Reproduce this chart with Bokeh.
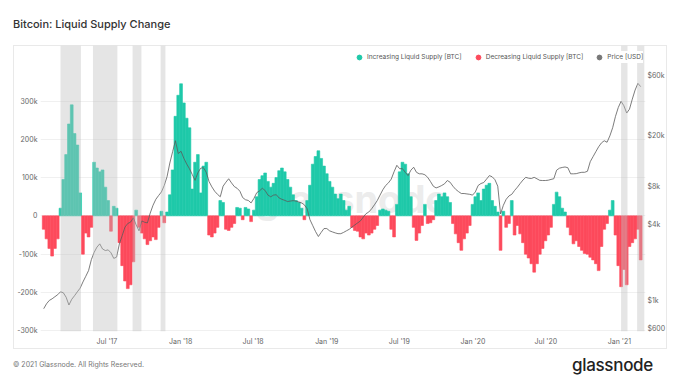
import numpy as np
import pandas as pd
from bokeh.plotting import figure
from bokeh.models import (Range1d, LogScale, LogAxis, FixedTicker, Legend, LegendItem,
                          BoxAnnotation, Label, Div, MonthsTicker, DatetimeTickFormatter)
from bokeh.layouts import column
from bokeh.embed import file_html
from bokeh.resources import INLINE

# ---------------- data ----------------
start_date = "2017-01-24"          # weekly samples
supply_k = [  # liquid supply change, thousands of BTC
    -35, -60, -85, -105, -85, -60, 20, 95, 160, 240,
    290, 215, 185, 60, -100, -45, -55, -30, 140, 125,
    115, 120, 75, 40, -40, 25, 20, -70, -130, -170,
    -190, -180, -120, 15, -30, -45, -60, -75, -65, -55,
    -62, -30, 12, -18, 10, 55, 120, 260, 315, 345,
    295, 255, 230, 70, 140, 160, 60, 130, 140, -50,
    -55, -45, -30, 40, 35, -35, -38, -30, -20, 22,
    20, -10, 22, 18, -15, 15, 50, 95, 105, 112,
    90, 75, 85, 100, 118, 125, 115, 95, 75, 55,
    40, 35, 20, -10, 40, 80, 135, 155, 170, 150,
    130, 110, 90, 75, 57, 45, 57, 40, 15, 25,
    -30, -38, -40, -55, -60, -45, -50, -45, -35, -25,
    15, 18, 15, 12, -35, -55, 30, 115, 140, 135,
    110, 50, -30, -64, -45, -25, 30, -20, -18, -10,
    40, 57, 50, 60, 50, 35, -20, -47, -70, -90,
    -60, -45, -25, 30, 50, 60, 40, 70, 80, 85,
    40, 25, 10, -90, 12, -30, -20, 40, -50, -25,
    -47, -70, -100, -110, -125, -147, -125, -100, -85, -65,
    -50, -30, 30, 62, 50, 20, 10, -30, -50, -73,
    -65, -80, -90, -98, -100, -108, -115, -125, -143, -80,
    -35, -20, 15, 40, -50, -130, -185, -140, -180, -80,
    -70, -60, -35, -115,
]
price_usd = [
    860, 940, 1000, 1030, 1070, 1110, 1170, 1150, 1060, 920,
    1020, 1090, 1170, 1250, 1400, 1550, 1720, 2100, 2400, 2640,
    2800, 2550, 2480, 2510, 2380, 2150, 2200, 2800, 3250, 3800,
    4060, 4160, 4500, 3950, 3550, 4250, 4150, 4100, 4900, 5650,
    6300, 6750, 7200, 8100, 9500, 12200, 15000, 18300, 14500, 15100,
    13300, 12000, 11000, 9900, 8900, 10200, 11100, 11200, 10300, 8700,
    7900, 7300, 6900, 6600, 8000, 8600, 9160, 8500, 7950, 7700,
    7300, 6500, 6250, 6170, 5900, 6400, 7100, 7350, 7700, 7400,
    6800, 6600, 6800, 6850, 6450, 6300, 6180, 6050, 6100, 6150,
    6100, 6000, 5900, 5700, 5300, 4350, 3900, 3500, 3200, 3450,
    3700, 3700, 3550, 3480, 3420, 3370, 3370, 3450, 3550, 3650,
    3800, 3950, 4100, 4250, 4550, 4850, 5000, 5300, 5700, 6150,
    6800, 7500, 8100, 8500, 9100, 10400, 11700, 11000, 11000, 10300,
    9700, 10700, 11300, 10300, 10020, 10020, 9850, 9400, 8700, 8000,
    7750, 7900, 8100, 8350, 8870, 8600, 8000, 7550, 7250, 7000,
    7000, 6950, 6900, 6800, 7200, 8100, 8400, 8550, 9100, 9700,
    9500, 9000, 8000, 4830, 5650, 6300, 6700, 6900, 7400, 7850,
    8400, 8950, 9400, 9250, 9200, 9400, 9150, 8900, 8870, 8870,
    8920, 9050, 9160, 10700, 11100, 11250, 11350, 11200, 10020, 10020,
    10050, 10200, 10300, 10300, 10500, 12500, 13700, 15000, 16400, 17600,
    18300, 17800, 20000, 23200, 28500, 33500, 37500, 34600, 30300, 32500,
    39000, 46000, 52000, 49000,
]
band_starts = ["2017-03-07", "2017-05-27", "2017-09-03", "2017-11-12", "2021-01-05", "2021-02-14"]
band_ends = ["2017-04-27", "2017-07-27", "2017-09-25", "2017-11-24", "2021-01-21", "2021-03-04"]
supply_ticks = [-300000, -200000, -100000, 0, 100000, 200000, 300000]
supply_tick_labels = ["-300k", "-200k", "-100k", "0", "100k", "200k", "300k"]
price_ticks = [600, 1000, 4000, 8000, 20000, 60000]
price_tick_labels = ["$600", "$1k", "$4k", "$8k", "$20k", "$60k"]
legend_labels = ["Increasing Liquid Supply [BTC]", "Decreasing Liquid Supply [BTC]", "Price [USD]"]

# ---------------- styling ----------------
TEAL = "#1fc9a9"
RED = "#fd4a5c"
PRICE = "#5a5a5a"
FONT = "Inter"
LABEL_COLOR = "#666666"
PANEL = "#e9e9e9"

dates = pd.date_range(start_date, periods=len(supply_k), freq="7D")
vals = np.array(supply_k, dtype=float) * 1000.0
bar_w = 7.0 * 24 * 3600 * 1000

g = "linear-gradient({c},{c})".format(c=PANEL)
panel_bg = (f"{g} 13px 0/1px 100% no-repeat, {g} 666px 0/1px 100% no-repeat, "
            f"{g} 13px 0/654px 1px no-repeat, {g} 13px 303px/654px 1px no-repeat, #ffffff")

p = figure(width=670, height=304, x_axis_type="datetime",
           x_range=Range1d(pd.Timestamp("2017-01-16"), pd.Timestamp("2021-03-07")),
           y_range=Range1d(-302000, 445000),
           output_backend="svg", toolbar_location=None,
           min_border_left=40, min_border_right=25, min_border_top=0, min_border_bottom=18,
           outline_line_color=None, background_fill_alpha=0.0, border_fill_alpha=0.0,
           margin=0, styles={"background": panel_bg})

p.extra_y_ranges = {"price": Range1d(568, 103600)}
p.extra_y_scales = {"price": LogScale()}

# watermark
wm = Label(x=215, y=133, x_units="screen", y_units="screen", text="glassnode",
           text_font=FONT, text_font_size="38px", text_font_style="bold", text_color="#ececec",
           text_baseline="middle", level="underlay")
p.add_layout(wm)

pos = vals > 0
neg = vals < 0
p.vbar(x=dates[pos], top=vals[pos], bottom=0, width=bar_w, fill_color=TEAL,
       line_color=TEAL, line_width=0.6)
p.vbar(x=dates[neg], top=0, bottom=vals[neg], width=bar_w, fill_color=RED,
       line_color=RED, line_width=0.6)
p.line(dates, price_usd, y_range_name="price", line_color=PRICE, line_width=0.8)

for s, e in zip(band_starts, band_ends):
    p.add_layout(BoxAnnotation(left=pd.Timestamp(s).value / 1e6, right=pd.Timestamp(e).value / 1e6,
                               fill_color="#bfbfbf", fill_alpha=0.4, line_color=None))

left = p.yaxis[0]
left.ticker = FixedTicker(ticks=supply_ticks)
left.major_label_overrides = {t: l for t, l in zip(supply_ticks, supply_tick_labels)}
left.major_label_standoff = 3

right = LogAxis(y_range_name="price", ticker=FixedTicker(ticks=price_ticks),
                major_label_overrides={t: l for t, l in zip(price_ticks, price_tick_labels)},
                major_label_standoff=2)
p.add_layout(right, "right")

xa = p.xaxis[0]
xa.ticker = MonthsTicker(months=[0, 6])
xa.formatter = DatetimeTickFormatter(days="%b '%y", months="%b '%y", years="%b '%y")
xa.major_label_standoff = 5

for ax in [left, right, xa]:
    ax.axis_line_color = None
    ax.major_tick_line_color = None
    ax.minor_tick_line_color = None
    ax.major_tick_out = 0
    ax.major_tick_in = 0
    ax.minor_tick_out = 0
    ax.minor_tick_in = 0
    ax.major_label_text_font = FONT
    ax.major_label_text_font_size = "7px"
    ax.major_label_text_color = LABEL_COLOR

p.xgrid.visible = False
p.ygrid.ticker = FixedTicker(ticks=supply_ticks)
p.ygrid.grid_line_color = "#f0f0f0"

# legend (dots); the dummy renderers hold one NaN point so nothing is drawn in the plot
r1 = p.scatter([dates[0]], [np.nan], marker="circle", color=TEAL)
r2 = p.scatter([dates[0]], [np.nan], marker="circle", color=RED)
r3 = p.scatter([dates[0]], [np.nan], marker="circle", color="#777777")
legend = Legend(items=[LegendItem(label=legend_labels[0], renderers=[r1]),
                       LegendItem(label=legend_labels[1], renderers=[r2]),
                       LegendItem(label=legend_labels[2], renderers=[r3])],
                orientation="horizontal", location=(313, 268),
                glyph_width=12, glyph_height=12, label_height=12, label_standoff=2,
                spacing=10, padding=3, margin=0,
                label_text_font=FONT, label_text_font_size="6.5px", label_text_color="#555555",
                background_fill_color="white", background_fill_alpha=1.0,
                border_line_color=None)
p.add_layout(legend)

title = Div(text="<div style=\"font-family:Inter;font-weight:500;font-size:11px;color:#333;"
                 "padding:17px 0 0 13px;\">Bitcoin: Liquid Supply Change</div>",
            width=670, height=45, margin=0)
footer = Div(text="<div style=\"display:flex;justify-content:space-between;align-items:center;"
                  "width:653px;padding-left:13px;height:32px;font-family:Inter;\">"
                  "<span style=\"font-size:7px;color:#777;\">&copy; 2021 Glassnode. All Rights Reserved.</span>"
                  "<span style=\"font-size:17px;font-weight:500;color:#222;letter-spacing:-0.3px;\">glassnode</span>"
                  "</div>",
             width=670, height=32, margin=0)

layout = column(title, p, footer, spacing=0)
open("out.html", "w").write(file_html(layout, INLINE))
